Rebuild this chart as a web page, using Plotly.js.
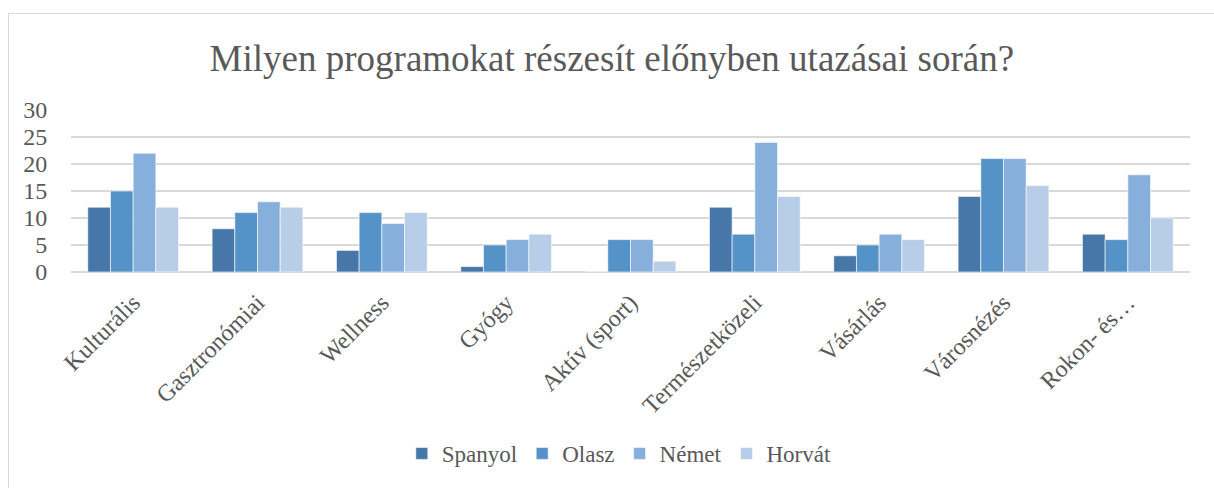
<!DOCTYPE html>
<html>
<head>
<meta charset="utf-8">
<script src="https://cdn.plot.ly/plotly-3.0.1.min.js"></script>
<style>
html,body{margin:0;padding:0;background:#fff;}
#wrap{position:relative;width:1214px;height:488px;overflow:hidden;}
#frame{position:absolute;left:8px;top:13px;width:1220px;height:500px;border:1.5px solid #d9d9d9;box-sizing:border-box;pointer-events:none;}
#chart{position:absolute;left:0;top:0;width:1214px;height:488px;}
</style>
</head>
<body>
<div id="wrap">
<div id="chart"></div>
<div id="frame"></div>
</div>
<script>
const categories = ["Kulturális","Gasztronómiai","Wellness","Gyógy","Aktív (sport)","Természetközeli","Vásárlás","Városnézés","Rokon- és…"];
const spanyol = [12, 8, 4, 1, 0, 12, 3, 14, 7];
const olasz   = [15, 11, 11, 5, 6, 7, 5, 21, 6];
const nemet   = [22, 13, 9, 6, 6, 24, 7, 21, 18];
const horvat  = [12, 12, 11, 7, 2, 14, 6, 16, 10];
const seriesNames = ["Spanyol","Olasz","Német","Horvát"];
const seriesColors = ["#4677a8","#5592c8","#87afdc","#b8cde8"];
const seriesValues = [spanyol, olasz, nemet, horvat];
const yTicks = [0,5,10,15,20,25,30];

const font = "Liberation Serif";
const traces = seriesValues.map((v,i)=>({
  type:'bar', name:seriesNames[i], x:categories, y:v,
  marker:{color:seriesColors[i], line:{color:'#ffffff', width:0.6}},
  hoverinfo:'x+y+name'
}));

const layout = {
  width:1214, height:488,
  margin:{l:71, r:24, t:110, b:213, pad:0},
  paper_bgcolor:'rgba(0,0,0,0)', plot_bgcolor:'rgba(0,0,0,0)',
  font:{family:font, color:'#595959', size:23},
  title:{text:'Milyen programokat részesít előnyben utazásai során?', font:{family:font, size:37, color:'#595959'},
         x:0.504, xanchor:'center', y:0.881, yanchor:'middle', yref:'container'},
  barmode:'group', bargap:0.27, bargroupgap:0,
  showlegend:true,
  legend:{orientation:'h', x:0.49, xanchor:'center', y:-1.12, yanchor:'middle',
          font:{family:'Times New Roman', size:23, color:'#595959'}, itemwidth:30, traceorder:'normal'},
  xaxis:{type:'category', tickangle:-45, showgrid:false, showline:false, zeroline:false,
         ticks:'outside', ticklen:6, tickcolor:'rgba(0,0,0,0)',
         tickfont:{family:font, size:24, color:'#595959'}},
  yaxis:{range:[0,30], tickvals:yTicks, ticktext:yTicks.map(String), showgrid:true, gridcolor:'#d9d9d9', gridwidth:1.5,
         zeroline:true, zerolinecolor:'#d9d9d9', zerolinewidth:1.5, showline:false,
         ticks:'outside', ticklen:18, tickcolor:'rgba(0,0,0,0)',
         tickfont:{family:font, size:24, color:'#595959'}}
};
Plotly.newPlot('chart', traces, layout, {displayModeBar:false, staticPlot:true}).then(gd=>{
  gd.querySelectorAll('.legendtext').forEach(t=>{
    t.style.setProperty('font-family', "'Liberation Serif', 'Times New Roman', serif", 'important');
    t.setAttribute('font-family', 'Liberation Serif');
    t.style.removeProperty('white-space');
  });
});
</script>
</body>
</html>
